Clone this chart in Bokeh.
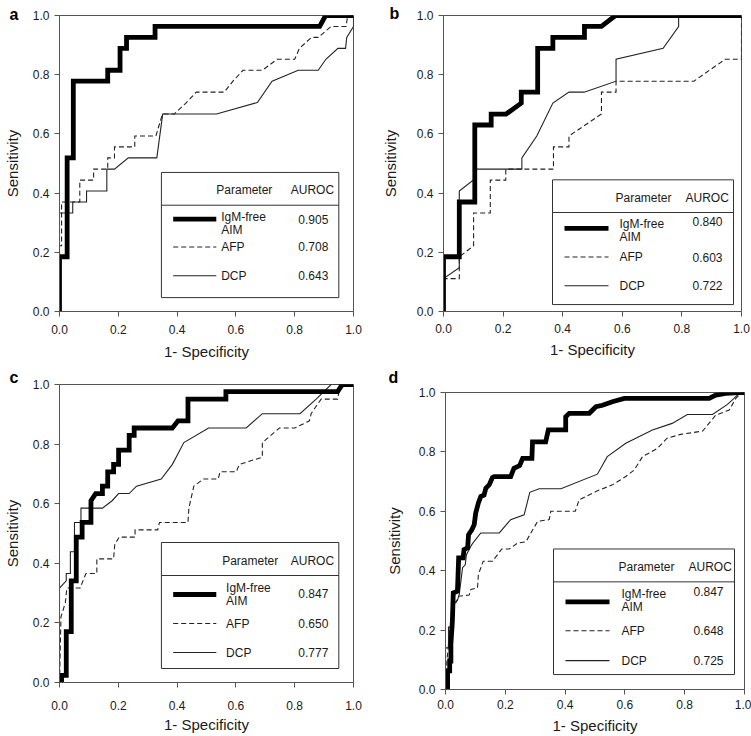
from bokeh.plotting import figure
from bokeh.layouts import row, column
from bokeh.models import Range1d, FixedTicker, PrintfTickFormatter, Label, Spacer
from bokeh.embed import file_html
from bokeh.resources import INLINE

# ---------------- data ----------------
panel_letters = ["a", "b", "c", "d"]
axis_ticks = [0.0, 0.2, 0.4, 0.6, 0.8, 1.0]
x_title = "1- Specificity"
y_title = "Sensitivity"
series_names = ["IgM-free AIM", "AFP", "DCP"]
header_names = ["Parameter", "AUROC"]

auroc_a = [0.905, 0.708, 0.643]
auroc_b = [0.840, 0.603, 0.722]
auroc_c = [0.847, 0.650, 0.777]
auroc_d = [0.847, 0.648, 0.725]

# panel a
a_igm_x = [0, 0, 0.026, 0.026, 0.047, 0.047, 0.164, 0.164, 0.206, 0.206, 0.228, 0.228, 0.325, 0.325, 0.885, 0.905, 1.0]
a_igm_y = [0, 0.185, 0.185, 0.519, 0.519, 0.778, 0.778, 0.815, 0.815, 0.889, 0.889, 0.926, 0.926, 0.963, 0.963, 1.0, 1.0]
a_afp_x = [0, 0, 0.007, 0.007, 0.069, 0.069, 0.116, 0.116, 0.164, 0.164, 0.187, 0.187, 0.256, 0.256, 0.328, 0.35, 0.39, 0.43, 0.465, 0.56, 0.59, 0.624, 0.69, 0.74, 0.8, 0.816, 0.857, 0.88, 0.924, 0.975, 0.98, 1.0]
a_afp_y = [0, 0.222, 0.222, 0.37, 0.37, 0.444, 0.444, 0.481, 0.481, 0.519, 0.519, 0.556, 0.556, 0.593, 0.593, 0.667, 0.667, 0.704, 0.741, 0.741, 0.778, 0.815, 0.815, 0.852, 0.852, 0.889, 0.926, 0.926, 0.963, 0.963, 1.0, 1.0]
a_dcp_x = [0, 0, 0.045, 0.045, 0.092, 0.092, 0.161, 0.161, 0.187, 0.234, 0.331, 0.351, 0.534, 0.673, 0.723, 0.812, 0.88, 0.906, 0.947, 0.973, 0.977, 1.0, 1.0]
a_dcp_y = [0, 0.333, 0.333, 0.37, 0.37, 0.407, 0.407, 0.481, 0.481, 0.519, 0.519, 0.667, 0.667, 0.706, 0.778, 0.815, 0.815, 0.852, 0.889, 0.889, 0.926, 0.963, 1.0]

# panel b
b_igm_x = [0, 0, 0.053, 0.053, 0.105, 0.105, 0.16, 0.16, 0.21, 0.261, 0.261, 0.316, 0.316, 0.367, 0.367, 0.473, 0.473, 0.53, 0.577, 1.0]
b_igm_y = [0, 0.185, 0.185, 0.37, 0.37, 0.63, 0.63, 0.667, 0.667, 0.704, 0.741, 0.741, 0.889, 0.889, 0.926, 0.926, 0.963, 0.963, 1.0, 1.0]
b_afp_x = [0, 0, 0.053, 0.053, 0.101, 0.101, 0.157, 0.157, 0.209, 0.209, 0.369, 0.369, 0.421, 0.421, 0.53, 0.53, 0.579, 0.579, 0.84, 0.945, 1.0, 1.0]
b_afp_y = [0, 0.111, 0.111, 0.185, 0.222, 0.333, 0.333, 0.444, 0.444, 0.481, 0.481, 0.556, 0.556, 0.593, 0.667, 0.741, 0.741, 0.778, 0.778, 0.852, 0.852, 1.0]
b_dcp_x = [0, 0, 0.053, 0.053, 0.1, 0.105, 0.105, 0.263, 0.263, 0.313, 0.367, 0.421, 0.472, 0.579, 0.579, 0.737, 0.789, 0.789, 1.0]
b_dcp_y = [0, 0.111, 0.148, 0.407, 0.444, 0.444, 0.481, 0.481, 0.519, 0.593, 0.704, 0.741, 0.741, 0.778, 0.852, 0.889, 0.963, 1.0, 1.0]

# panel c
c_igm_x = [0, 0.007, 0.007, 0.023, 0.023, 0.04, 0.04, 0.057, 0.057, 0.077, 0.077, 0.107, 0.107, 0.123, 0.146, 0.146, 0.164, 0.164, 0.184, 0.184, 0.201, 0.201, 0.237, 0.237, 0.254, 0.254, 0.384, 0.403, 0.437, 0.437, 0.566, 0.566, 0.946, 0.962, 1.0]
c_igm_y = [0, 0, 0.024, 0.024, 0.171, 0.171, 0.341, 0.341, 0.488, 0.488, 0.537, 0.537, 0.61, 0.634, 0.634, 0.659, 0.659, 0.707, 0.707, 0.732, 0.732, 0.78, 0.78, 0.829, 0.829, 0.854, 0.854, 0.878, 0.878, 0.951, 0.951, 0.976, 0.976, 1.0, 1.0]
c_afp_x = [0, 0.005, 0.02, 0.025, 0.07, 0.09, 0.127, 0.127, 0.184, 0.188, 0.203, 0.257, 0.257, 0.334, 0.34, 0.437, 0.44, 0.457, 0.49, 0.54, 0.546, 0.601, 0.612, 0.69, 0.69, 0.748, 0.8, 0.85, 0.856, 0.873, 0.89, 0.946, 0.955, 1.0]
c_afp_y = [0, 0.22, 0.268, 0.317, 0.317, 0.366, 0.366, 0.415, 0.415, 0.463, 0.488, 0.488, 0.512, 0.512, 0.537, 0.537, 0.585, 0.659, 0.683, 0.683, 0.707, 0.707, 0.732, 0.756, 0.805, 0.854, 0.854, 0.878, 0.902, 0.927, 0.951, 0.951, 1.0, 1.0]
c_dcp_x = [0, 0, 0.023, 0.023, 0.037, 0.037, 0.051, 0.051, 0.073, 0.073, 0.146, 0.179, 0.201, 0.237, 0.262, 0.346, 0.384, 0.423, 0.507, 0.635, 0.69, 0.818, 0.873, 0.924, 1.0]
c_dcp_y = [0, 0.317, 0.341, 0.366, 0.366, 0.439, 0.439, 0.537, 0.537, 0.585, 0.585, 0.61, 0.634, 0.634, 0.659, 0.683, 0.732, 0.805, 0.854, 0.854, 0.902, 0.902, 0.951, 1.0, 1.0]

# panel d
d_igm_x = [0, 0, 0.007, 0.007, 0.014, 0.014, 0.018, 0.018, 0.023, 0.026, 0.04, 0.044, 0.059, 0.062, 0.074, 0.077, 0.088, 0.096, 0.101, 0.11, 0.118, 0.129, 0.135, 0.146, 0.157, 0.163, 0.218, 0.229, 0.248, 0.258, 0.289, 0.291, 0.335, 0.344, 0.402, 0.402, 0.414, 0.481, 0.503, 0.525, 0.558, 0.598, 0.882, 0.904, 0.937, 0.982, 1.0]
d_igm_y = [0, 0.007, 0.007, 0.063, 0.063, 0.096, 0.096, 0.152, 0.23, 0.325, 0.331, 0.443, 0.443, 0.471, 0.477, 0.521, 0.538, 0.555, 0.594, 0.628, 0.65, 0.655, 0.678, 0.689, 0.714, 0.717, 0.717, 0.745, 0.754, 0.778, 0.778, 0.834, 0.834, 0.874, 0.874, 0.918, 0.93, 0.93, 0.952, 0.957, 0.969, 0.98, 0.98, 0.991, 0.997, 1.0, 1.0]
d_afp_x = [0, 0.005, 0.015, 0.025, 0.035, 0.044, 0.079, 0.085, 0.107, 0.11, 0.126, 0.157, 0.174, 0.188, 0.213, 0.241, 0.269, 0.282, 0.308, 0.347, 0.352, 0.434, 0.447, 0.508, 0.558, 0.603, 0.631, 0.659, 0.709, 0.741, 0.787, 0.86, 0.904, 0.949, 0.971, 0.988, 1.0]
d_afp_y = [0, 0.1, 0.2, 0.29, 0.292, 0.314, 0.318, 0.337, 0.342, 0.387, 0.432, 0.432, 0.454, 0.473, 0.473, 0.493, 0.497, 0.521, 0.566, 0.572, 0.6, 0.6, 0.639, 0.669, 0.689, 0.717, 0.739, 0.784, 0.812, 0.846, 0.859, 0.87, 0.924, 0.941, 0.98, 0.997, 1.0]
d_dcp_x = [0, 0, 0.01, 0.01, 0.02, 0.025, 0.04, 0.046, 0.057, 0.066, 0.07, 0.088, 0.096, 0.118, 0.18, 0.218, 0.263, 0.282, 0.313, 0.386, 0.508, 0.541, 0.603, 0.692, 0.758, 0.809, 0.893, 0.943, 0.965, 0.982, 1.0]
d_dcp_y = [0, 0.14, 0.14, 0.21, 0.21, 0.29, 0.3, 0.32, 0.41, 0.42, 0.454, 0.488, 0.499, 0.527, 0.527, 0.572, 0.588, 0.664, 0.676, 0.676, 0.725, 0.784, 0.829, 0.874, 0.896, 0.926, 0.926, 0.96, 0.98, 0.997, 1.0]

# ---------------- layout / style (pixels) ----------------
FONT = "Liberation Sans"
TXT = "#1a1a1a"
FRAME = "#555555"

# d sits 8px lower than c in the reference; a spacer above it keeps the frames independent
D_SHIFT = 8

panel_cfg = [
    dict(w=376, h=362, mb=(53, 23, 14, 50), box=(104, 158), ystd=(5, 5, 9), xstd=(5, 8, 6),
         letter=(-51, -1), lside="right", px=56, ax=132, ix=61, rows=(47, 75, 104), v0=47),
    dict(w=375, h=362, mb=(67, 10, 15, 48), box=(109, 166), ystd=(5, 5, 15), xstd=(5, 7, 5),
         letter=(-54, -2), lside="right", px=63, ax=133, ix=67, rows=(49, 78, 107), v0=42),
    dict(w=376, h=374, mb=(53, 23, 22, 54), box=(104, 158), ystd=(5, 5, 9), xstd=(5, 13, 3),
         letter=(-51, -7), lside="right", px=62, ax=132, ix=66, rows=(52, 81, 110), v0=51),
    dict(w=375, h=374 - D_SHIFT, mb=(69, 7, 30 - D_SHIFT, 46), box=(108, 157), ystd=(5, 5, 13), xstd=(5, 5, 5),
         letter=(-57, -15), lside="above", px=65, ax=135, ix=68, rows=(53, 82, 112), v0=43),
]

panel_series = [
    ((a_igm_x, a_igm_y), (a_afp_x, a_afp_y), (a_dcp_x, a_dcp_y)),
    ((b_igm_x, b_igm_y), (b_afp_x, b_afp_y), (b_dcp_x, b_dcp_y)),
    ((c_igm_x, c_igm_y), (c_afp_x, c_afp_y), (c_dcp_x, c_dcp_y)),
    ((d_igm_x, d_igm_y), (d_afp_x, d_afp_y), (d_dcp_x, d_dcp_y)),
]
panel_auroc = [auroc_a, auroc_b, auroc_c, auroc_d]

line_styles = [
    dict(line_width=4.8, line_color="black", line_dash="solid"),
    dict(line_width=1.1, line_color="#222222", line_dash="5 3"),
    dict(line_width=1.1, line_color="#222222", line_dash="solid"),
]

BOX_W, BOX_H, SEP = 181, 126, 33


def make_panel(letter, cfg, series, aurocs):
    ml, mr, mt, mbt = cfg["mb"]
    fw = cfg["w"] - ml - mr
    fh = cfg["h"] - mt - mbt

    def X(px):
        return px / fw

    def Y(py):
        return 1 - py / fh

    p = figure(width=cfg["w"], height=cfg["h"], x_range=Range1d(0, 1), y_range=Range1d(0, 1),
               output_backend="svg", toolbar_location=None,
               min_border_left=ml, min_border_right=mr, min_border_top=mt, min_border_bottom=mbt,
               background_fill_color="white", border_fill_color="white")
    p.grid.visible = False
    p.outline_line_color = FRAME
    p.outline_line_width = 1

    for ax in (p.xaxis[0], p.yaxis[0]):
        ax.ticker = FixedTicker(ticks=axis_ticks)
        ax.formatter = PrintfTickFormatter(format="%.1f")
        ax.axis_line_color = FRAME
        ax.major_tick_line_color = FRAME
        ax.major_tick_in = 0
        ax.minor_tick_line_color = None
        ax.major_label_text_font = FONT
        ax.major_label_text_font_size = "12px"
        ax.major_label_text_color = TXT
        ax.axis_label_text_font = FONT
        ax.axis_label_text_font_size = "15px"
        ax.axis_label_text_font_style = "normal"
        ax.axis_label_text_color = TXT

    p.xaxis.axis_label = x_title
    p.yaxis.axis_label = y_title
    p.xaxis.major_tick_out, p.xaxis.major_label_standoff, p.xaxis.axis_label_standoff = cfg["xstd"]
    p.yaxis.major_tick_out, p.yaxis.major_label_standoff, p.yaxis.axis_label_standoff = cfg["ystd"]

    # curves (thin first, thick on top)
    for idx in (2, 1, 0):
        xs, ys = series[idx]
        p.line(xs, ys, line_join="miter", line_cap="butt", **line_styles[idx])

    # legend table
    bx, by = cfg["box"]
    p.quad(left=[X(bx)], right=[X(bx + BOX_W)], top=[Y(by)], bottom=[Y(by + BOX_H)],
           fill_color="white", line_color="#333333", line_width=1)
    p.segment(x0=[X(bx)], x1=[X(bx + BOX_W)], y0=[Y(by + SEP)], y1=[Y(by + SEP)],
              line_color="#333333", line_width=1)

    def lab(px, py, text, align="left"):
        p.add_layout(Label(x=X(bx + px), y=Y(by + py), text=text, text_font=FONT,
                           text_font_size="12px", text_color=TXT, text_align=align,
                           text_baseline="middle"))

    lab(cfg["px"], 18, header_names[0])
    lab(cfg["ax"], 18, header_names[1])
    r0, r1, r2 = cfg["rows"]
    for idx, ry in enumerate((r0, r1, r2)):
        p.line([X(bx + 12), X(bx + 56)], [Y(by + ry), Y(by + ry)], line_cap="butt", **line_styles[idx])
    name0 = series_names[0].split(" ")
    lab(cfg["ix"], 45, name0[0])
    lab(cfg["ix"], 58, name0[1])
    lab(cfg["ix"], r1, series_names[1])
    lab(cfg["ix"], r2, series_names[2])
    lab(155, cfg["v0"], "%.3f" % aurocs[0], "center")
    lab(155, r1, "%.3f" % aurocs[1], "center")
    lab(155, r2, "%.3f" % aurocs[2], "center")

    # panel letter: placed in a side panel so it is not clipped to the frame
    lx, ly = cfg["letter"]
    p.add_layout(Label(x=X(lx), y=Y(ly), text=letter, text_font=FONT, text_font_size="16px",
                       text_font_style="bold", text_color="black", text_align="left",
                       text_baseline="alphabetic"), cfg["lside"])
    return p


figs = [make_panel(panel_letters[i], panel_cfg[i], panel_series[i], panel_auroc[i]) for i in range(4)]
layout = column(
    row(figs[0], figs[1]),
    row(figs[2], column(Spacer(width=375, height=D_SHIFT), figs[3])),
)

open("out.html", "w").write(file_html(layout, INLINE))
